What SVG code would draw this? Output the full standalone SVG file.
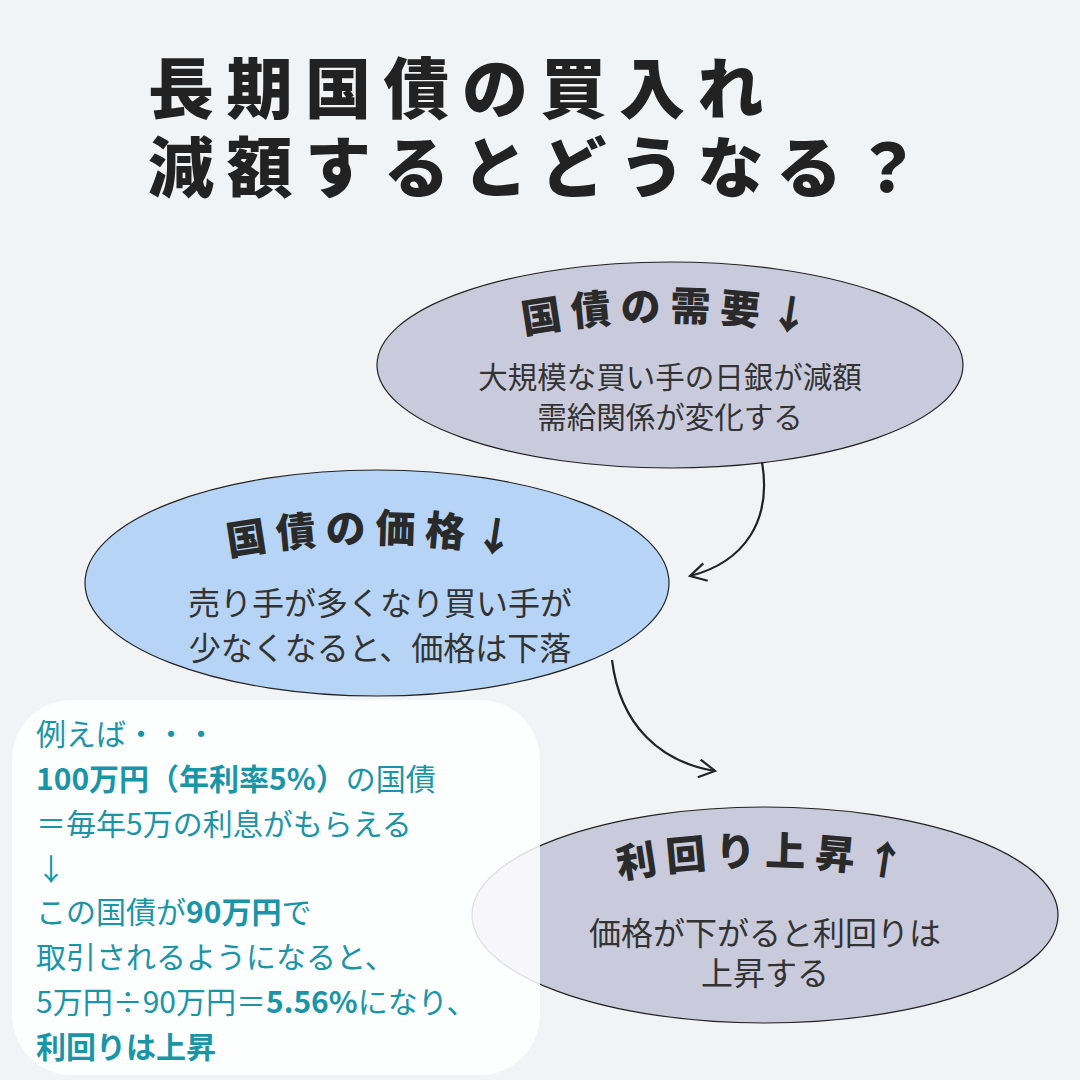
<svg xmlns="http://www.w3.org/2000/svg" width="1080" height="1080" viewBox="0 0 1080 1080">
<defs>
<style>
.t{font-family:"Noto Sans CJK JP","Noto Sans",sans-serif;}
.title{font-size:66px;font-weight:900;fill:#222;letter-spacing:12.5px;}
.hd{font-size:40px;font-weight:900;fill:#2a2a2a;letter-spacing:9px;}
.bd{font-size:29.5px;fill:#333;}
.bd2{font-size:32px;fill:#333;}
.bx{font-size:30px;fill:#1a95a8;}
.b{font-weight:700;}
.conn{fill:none;stroke:#222;stroke-width:2.2;}
</style>
<marker id="ah" viewBox="0 0 20 20" refX="18" refY="10" markerWidth="20" markerHeight="20" markerUnits="userSpaceOnUse" orient="auto">
<path d="M2 1 L18 10 L2 19" fill="none" stroke="#222" stroke-width="2.2"/>
</marker>
<path id="a1" d="M495 340 A 800 800 0 0 1 845 340"/>
<path id="a2" d="M200 562 A 800 800 0 0 1 550 562"/>
<path id="a3" d="M590 885 A 800 800 0 0 1 940 885"/>
</defs>
<rect width="1080" height="1080" fill="#f2f3f5"/>
<g id="title" class="t title">
<text x="148" y="113">長期国債の買入れ</text>
<text x="148" y="192">減額するとどうなる？</text>
</g>
<g id="node1">
<ellipse cx="670" cy="365" rx="293" ry="103" fill="#c9cbdc" stroke="#222" stroke-width="1.2"/>
<text class="t hd"><textPath href="#a1" startOffset="50%" text-anchor="middle">国債の需要↓</textPath></text>
<text class="t bd" x="670" y="388" text-anchor="middle">大規模な買い手の日銀が減額</text>
<text class="t bd" x="670" y="428" text-anchor="middle">需給関係が変化する</text>
</g>
<g id="node2">
<ellipse cx="377" cy="583" rx="292" ry="113" fill="#b6d4f5" stroke="#222" stroke-width="1.2"/>
<text class="t hd"><textPath href="#a2" startOffset="50%" text-anchor="middle">国債の価格↓</textPath></text>
<text class="t bd2" x="380" y="615" text-anchor="middle">売り手が多くなり買い手が</text>
<text class="t bd2" x="380" y="660" text-anchor="middle">少なくなると、価格は下落</text>
</g>
<g id="node3">
<ellipse cx="765" cy="915" rx="293" ry="108" fill="#c9cbdc" stroke="#222" stroke-width="1.2"/>
<text class="t hd"><textPath href="#a3" startOffset="50%" text-anchor="middle">利回り上昇↑</textPath></text>
<text class="t bd2" x="765" y="945" text-anchor="middle">価格が下がると利回りは</text>
<text class="t bd2" x="765" y="985" text-anchor="middle">上昇する</text>
</g>
<g id="connectors">
<path class="conn" d="M762 462 C772 520 745 562 690 576" marker-end="url(#ah)"/>
<path class="conn" d="M612 660 C620 725 660 762 715 771" marker-end="url(#ah)"/>
</g>
<g id="example">
<rect x="12" y="700" width="528" height="375" rx="60" fill="#ffffff" fill-opacity="0.85"/>
<g class="t bx">
<text x="36" y="745">例えば・・・</text>
<text x="36" y="790"><tspan class="b">100万円（年利率5%）</tspan>の国債</text>
<text x="36" y="835">＝毎年5万の利息がもらえる</text>
<text x="36" y="880">↓</text>
<text x="36" y="923">この国債が<tspan class="b">90万円</tspan>で</text>
<text x="36" y="968">取引されるようになると、</text>
<text x="36" y="1013">5万円÷90万円＝<tspan class="b">5.56%</tspan>になり、</text>
<text x="36" y="1058" class="b">利回りは上昇</text>
</g>
</g>
</svg>
